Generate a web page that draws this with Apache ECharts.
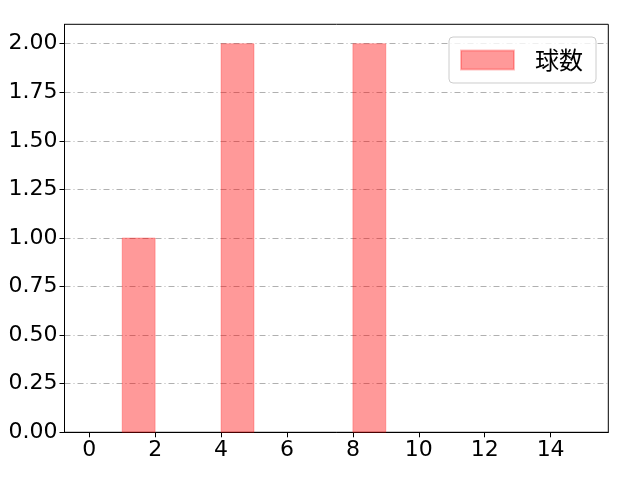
<!DOCTYPE html>
<html><head><meta charset="utf-8">
<script src="https://cdn.jsdelivr.net/npm/echarts@6/dist/echarts.min.js"></script>
<style>html,body{margin:0;padding:0;background:#fff}#c{width:640px;height:480px}</style>
</head><body><div id="c"></div>
<script>
const binStarts = [0,1,2,3,4,5,6,7,8,9,10,11,12,13,14];
const binEnds   = [1,2,3,4,5,6,7,8,9,10,11,12,13,14,15];
const counts    = [0,1,0,0,2,0,0,0,2,0,0,0,0,0,0];
const xTicks = [0,2,4,6,8,10,12,14];
const yTicks = [0,0.25,0.5,0.75,1,1.25,1.5,1.75,2];
const seriesName = '球数';

const numFont = '"DejaVu Sans", sans-serif';
const cjkFont = '"Noto Sans CJK JP", sans-serif';
const data = binStarts.map((s,i)=>[s, binEnds[i], counts[i]]).filter(d=>d[2]>0);
const chart = echarts.init(document.getElementById('c'));
chart.setOption({
  animation:false,
  grid:{left:64.5, right:31.7, top:24.3, bottom:47.7, show:true, borderColor:'#000', borderWidth:1},
  legend:{
    right:44, top:37, orient:'vertical',
    data:[{name:seriesName, icon:'rect'}],
    itemWidth:53, itemHeight:19,
    padding:[11,13,11,11],
    backgroundColor:'rgba(255,255,255,0.8)', borderColor:'#ccc', borderWidth:1, borderRadius:4,
    textStyle:{fontFamily:cjkFont, fontSize:24, color:'#000', padding:[0,0,0,16]}
  },
  xAxis:{
    type:'value', min:-0.75, max:15.75,
    axisLine:{onZero:false, lineStyle:{color:'#000'}},
    axisTick:{show:true, length:5, lineStyle:{color:'#000'}, customValues:xTicks},
    axisLabel:{fontFamily:numFont, fontSize:22, color:'#000', margin:7, customValues:xTicks},
    splitLine:{show:false}
  },
  yAxis:{
    type:'value', min:0, max:2.1,
    axisLine:{show:true, onZero:false, lineStyle:{color:'#000'}},
    axisTick:{show:true, length:5, lineStyle:{color:'#000'}, customValues:yTicks},
    axisLabel:{fontFamily:numFont, fontSize:22, color:'#000', margin:7, customValues:yTicks,
      formatter:v=>v.toFixed(2)},
    splitLine:{show:true, lineStyle:{color:'#b0b0b0', width:1, type:[6,3,1,3]}}
  },
  series:[{
    name:seriesName, type:'custom',
    itemStyle:{color:'rgba(255,0,0,0.4)', borderColor:'rgba(255,0,0,0.25)', borderWidth:1},
    encode:{x:[0,1], y:2},
    data:data,
    renderItem:(params, api)=>{
      const p0 = api.coord([api.value(0), api.value(2)]);
      const p1 = api.coord([api.value(1), 0]);
      return {type:'rect', shape:{x:p0[0], y:p0[1], width:p1[0]-p0[0], height:p1[1]-p0[1]},
        style:{fill:'rgba(255,0,0,0.4)', stroke:'rgba(255,0,0,0.25)', lineWidth:1}};
    }
  }]
});
</script></body></html>
